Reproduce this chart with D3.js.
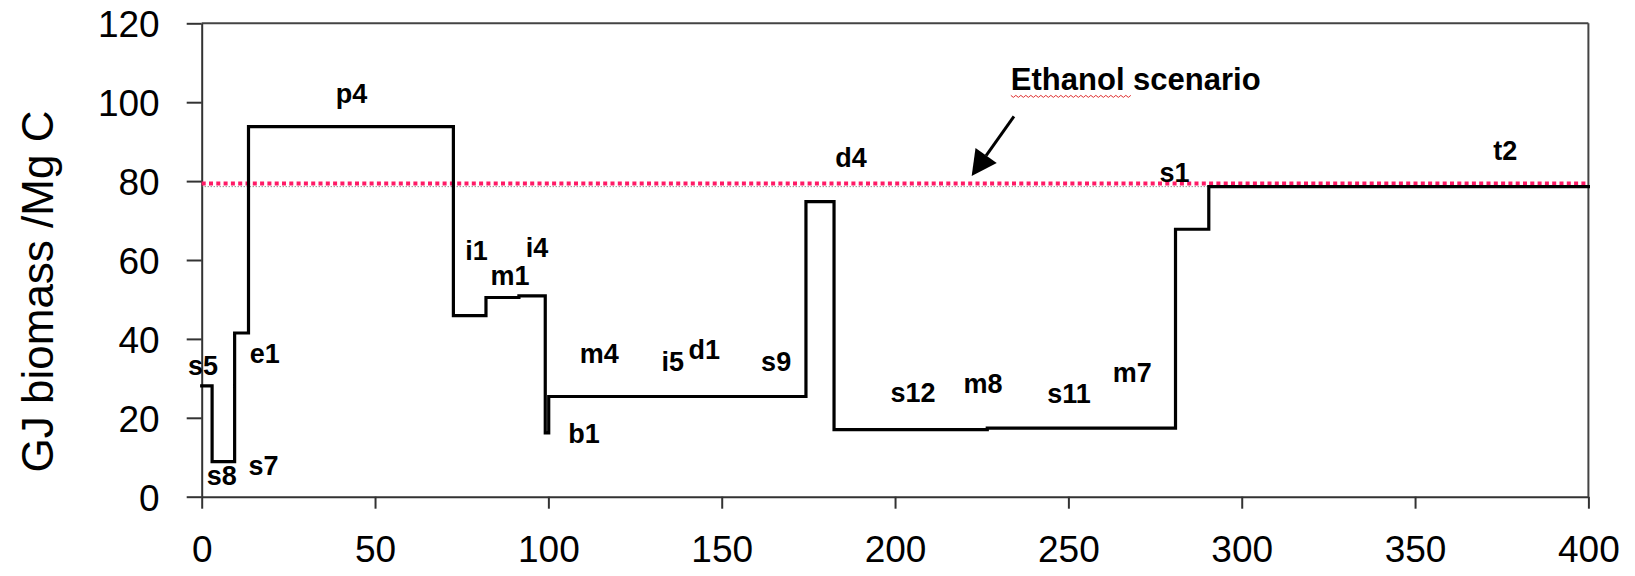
<!DOCTYPE html>
<html>
<head>
<meta charset="utf-8">
<script src="https://cdn.jsdelivr.net/npm/d3@7/dist/d3.min.js"></script>
<style>
  html, body { margin: 0; padding: 0; background: #fff; }
  svg { display: block; }
  text { font-family: "Liberation Sans", Arial, sans-serif; fill: #000; }
</style>
</head>
<body>
<svg id="chart" width="1635" height="576"></svg>
<script>
// Step boundaries (cumulative x) and the value held on each step
const stepEdges  = [0, 3.0, 9.5, 13.5, 72.6, 82.0, 91.5, 99.1, 100.1, 174.3, 182.4, 226.6, 280.9, 290.5, 400];
const stepValues = [28.1, 8.9, 41.5, 93.8, 45.9, 50.5, 50.9, 16.2, 25.4, 74.8, 17.0, 17.4, 67.8, 78.6];

// Option labels and where they sit (data units)
const labelNames = ["s5", "s8", "s7", "e1", "p4", "i1", "m1", "i4", "b1", "m4", "i5", "d1", "s9", "d4", "s12", "m8", "s11", "m7", "s1", "t2"];
const labelX     = [0.4, 5.8, 17.8, 18.2, 43.2, 79.3, 88.9, 96.7, 110.3, 114.7, 135.9, 145.0, 165.7, 187.3, 205.2, 225.4, 250.2, 268.4, 280.6, 376.0];
const labelY     = [30.8, 3.0, 5.5, 33.9, 99.8, 60.0, 53.6, 60.8, 13.6, 33.9, 31.9, 34.9, 31.9, 83.6, 24.0, 26.3, 23.7, 29.0, 79.8, 85.3];

// Ethanol scenario reference level
const ethanolLevel = 79.4;

// Axis ticks
const xTicks = [0, 50, 100, 150, 200, 250, 300, 350, 400];
const yTicks = [0, 20, 40, 60, 80, 100, 120];

const svg = d3.select("#chart");
const x = d3.scaleLinear().domain([0, 400]).range([201.7, 1588.4]);
const y = d3.scaleLinear().domain([0, 120]).range([496.7, 23.3]);

// Frame: top and right borders
svg.append("line")
  .attr("x1", x(0)).attr("x2", x(400)).attr("y1", y(120)).attr("y2", y(120))
  .attr("stroke", "#444").attr("stroke-width", 2);
svg.append("line")
  .attr("x1", x(400)).attr("x2", x(400)).attr("y1", y(120)).attr("y2", y(0))
  .attr("stroke", "#444").attr("stroke-width", 2);

// Axes
const yAxis = svg.append("g")
  .attr("transform", `translate(${x(0)},0)`)
  .call(d3.axisLeft(y).tickValues(yTicks).tickSize(15).tickSizeOuter(0).tickPadding(27));
yAxis.selectAll("path, line").attr("stroke", "#333").attr("stroke-width", 2);
yAxis.selectAll("text")
  .attr("dy", null).attr("y", 13.4)
  .style("font-size", "37px").style("font-family", "'Liberation Sans', Arial, sans-serif").attr("fill", "#000");

const xAxis = svg.append("g")
  .attr("transform", `translate(0,${y(0)})`)
  .call(d3.axisBottom(x).tickValues(xTicks).tickSize(12).tickSizeOuter(0));
xAxis.selectAll("path, line").attr("stroke", "#333").attr("stroke-width", 2);
xAxis.selectAll("text")
  .attr("dy", null).attr("y", 65.3)
  .style("font-size", "37px").style("font-family", "'Liberation Sans', Arial, sans-serif").attr("fill", "#000");

// Y axis title
svg.append("text")
  .attr("transform", `translate(53,291.5) rotate(-90)`)
  .attr("text-anchor", "middle")
  .style("font-size", "44px")
  .text("GJ biomass /Mg C");

// Thin grey dotted guide at the t2 level
const lastLevel = stepValues[stepValues.length - 1];
svg.append("line")
  .attr("x1", x(0)).attr("x2", x(stepEdges[stepEdges.length - 2]))
  .attr("y1", y(lastLevel)).attr("y2", y(lastLevel))
  .attr("stroke", "#666").attr("stroke-width", 1).attr("stroke-dasharray", "1,2");

// Ethanol scenario dotted line
svg.append("line")
  .attr("x1", x(0)).attr("x2", x(400))
  .attr("y1", y(ethanolLevel)).attr("y2", y(ethanolLevel))
  .attr("stroke", "#ff1a66").attr("stroke-width", 4).attr("stroke-dasharray", "4,3.3");

// Stepped supply curve
const pts = stepValues.map((v, i) => [stepEdges[i], v]);
pts.push([stepEdges[stepEdges.length - 1], lastLevel]);
const stepLine = d3.line().x(d => x(d[0])).y(d => y(d[1])).curve(d3.curveStepAfter);
svg.append("path")
  .attr("d", stepLine(pts))
  .attr("fill", "none").attr("stroke", "#000").attr("stroke-width", 3.2)
  .attr("stroke-linejoin", "miter").attr("stroke-linecap", "square");

// Option labels
svg.append("g").selectAll("text")
  .data(labelNames)
  .join("text")
  .attr("x", (d, i) => x(labelX[i]))
  .attr("y", (d, i) => y(labelY[i]))
  .attr("text-anchor", "middle")
  .style("font-size", "27px").style("font-weight", "bold")
  .text(d => d);

// Annotation text and arrow
const noteX = 233.4, noteY = 103.0;
svg.append("text")
  .attr("x", x(noteX)).attr("y", y(noteY))
  .style("font-size", "31px").style("font-weight", "bold")
  .text("Ethanol scenario");

// spell-check squiggle under "Ethanol"
const sqX0 = x(noteX), sqX1 = sqX0 + 120, sqY = y(noteY) + 5;
let sq = `M${sqX0},${sqY}`;
for (let px = sqX0, k = 0; px < sqX1; px += 2.5, k++) {
  sq += ` L${px + 2.5},${sqY + (k % 2 === 0 ? 2 : 0)}`;
}
svg.append("path").attr("d", sq).attr("fill", "none").attr("stroke", "#e03030").attr("stroke-width", 1);

const arrowFrom = [234.3, 96.4], arrowTo = [222.1, 81.3];
const ax0 = x(arrowFrom[0]), ay0 = y(arrowFrom[1]), ax1 = x(arrowTo[0]), ay1 = y(arrowTo[1]);
const ang = Math.atan2(ay1 - ay0, ax1 - ax0);
const headLen = 25, headHalf = 13;
const bx = ax1 - headLen * Math.cos(ang), by = ay1 - headLen * Math.sin(ang);
svg.append("line")
  .attr("x1", ax0).attr("y1", ay0).attr("x2", bx).attr("y2", by)
  .attr("stroke", "#000").attr("stroke-width", 3);
svg.append("path")
  .attr("d", `M${ax1},${ay1} L${bx + headHalf * Math.sin(ang)},${by - headHalf * Math.cos(ang)} L${bx - headHalf * Math.sin(ang)},${by + headHalf * Math.cos(ang)} Z`)
  .attr("fill", "#000");
</script>
</body>
</html>
